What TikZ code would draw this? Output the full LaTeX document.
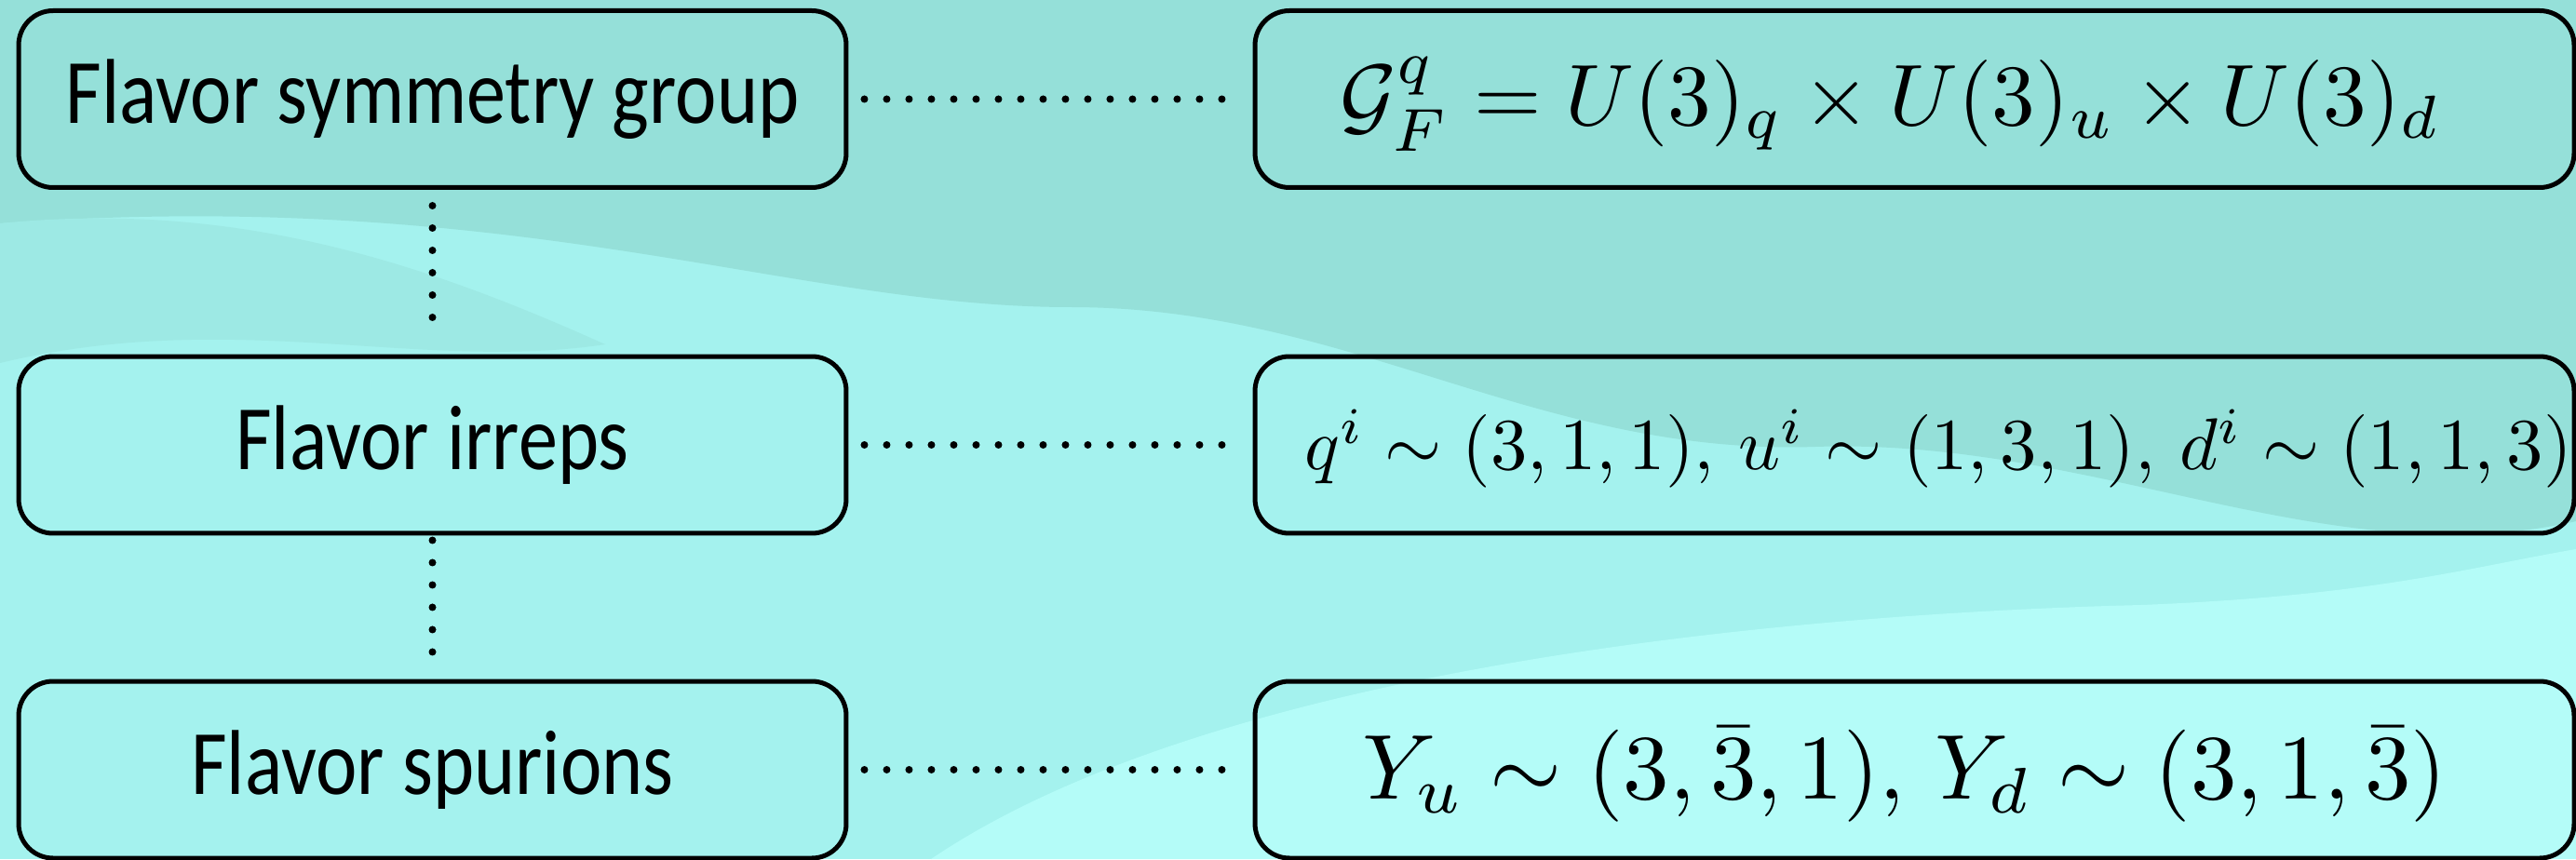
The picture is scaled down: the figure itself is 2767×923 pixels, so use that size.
\documentclass[tikz,border=0pt]{standalone}
\usepackage{fix-cm}
\usepackage{graphicx}
\usepackage{fontspec}
\newfontfamily\boxfont{Carlito}
\definecolor{bgbase}{HTML}{A4F2EE}
\definecolor{bgdark}{HTML}{95E0D9}
\definecolor{bgmid}{HTML}{9DE9E4}
\definecolor{bglight}{HTML}{B4FCF8}
\begin{document}
\begin{tikzpicture}[x=0.1pt,y=-0.1pt,
  lbox/.style={draw=black,line width=0.5pt,rounded corners=3.7pt,
    minimum width=88.9pt,minimum height=19pt,inner sep=0pt,
    font=\boxfont\fontsize{9.9}{11}\selectfont},
  rbox/.style={draw=black,line width=0.5pt,rounded corners=3.7pt,
    minimum width=141.7pt,minimum height=19pt,inner sep=0pt},
  mathtxt/.style={inner sep=0pt,font=\fontsize{10}{12}\selectfont},
  dotline/.style={line width=0.8pt,line cap=round,dash pattern=on 0pt off 2.4pt}]
% background
\fill[bgbase] (0,0) rectangle (2767,923);
\fill[bgdark] (0,0) -- (2767,0) -- (2767,560)
  .. controls (2500,620) and (2250,470) .. (1950,480)
  .. controls (1650,490) and (1450,330) .. (1150,330)
  .. controls (850,330) and (560,200) .. (0,240) -- cycle;
\fill[bgmid] (0,240) .. controls (250,215) and (450,280) .. (650,370)
  .. controls (450,400) and (250,330) .. (0,390) -- cycle;
\fill[bglight] (1000,923) .. controls (1300,720) and (1900,660) .. (2300,650)
  .. controls (2550,640) and (2650,610) .. (2767,590)
  -- (2767,923) -- cycle;
\useasboundingbox (0,0) rectangle (2767,923);
% left boxes
\node[lbox] (L1) at (464.5,106.5) {\scalebox{0.85}[1]{Flavor symmetry group}};
\node[lbox] (L2) at (464.5,478) {\scalebox{0.85}[1]{Flavor irreps}};
\node[lbox] (L3) at (464.5,827) {\scalebox{0.85}[1]{Flavor spurions}};
% right boxes
\node[rbox] (R1) at (2056.5,106.5) {};
\node[rbox] (R2) at (2056.5,478) {};
\node[rbox] (R3) at (2056.5,827) {};
\node[mathtxt,scale=0.933] (T1) at (2031,112) {$\mathcal{G}_F^q = U(3)_q \times U(3)_u \times U(3)_d$};
\node[mathtxt,scale=0.787] (T2) at (2082,482) {$q^i \sim (3,1,1),\, u^i \sim (1,3,1),\, d^i \sim (1,1,3)$};
\node[mathtxt,scale=0.99] (T3) at (2046,832) {$Y_u \sim (3,\bar{3},1),\, Y_d \sim (3,1,\bar{3})$};
% connectors
\draw[dotline,shorten <=1.7pt,shorten >=1.4pt] (L1.east) -- (R1.west);
\draw[dotline,shorten <=1.7pt,shorten >=1.4pt] (L2.east) -- (R2.west);
\draw[dotline,shorten <=1.7pt,shorten >=1.4pt] (L3.east) -- (R3.west);
\draw[dotline,shorten <=1.7pt,shorten >=2pt] (L1.south) -- (L2.north);
\draw[dotline,shorten <=0.5pt,shorten >=1.1pt] (L2.south) -- (L3.north);
\end{tikzpicture}
\end{document}
